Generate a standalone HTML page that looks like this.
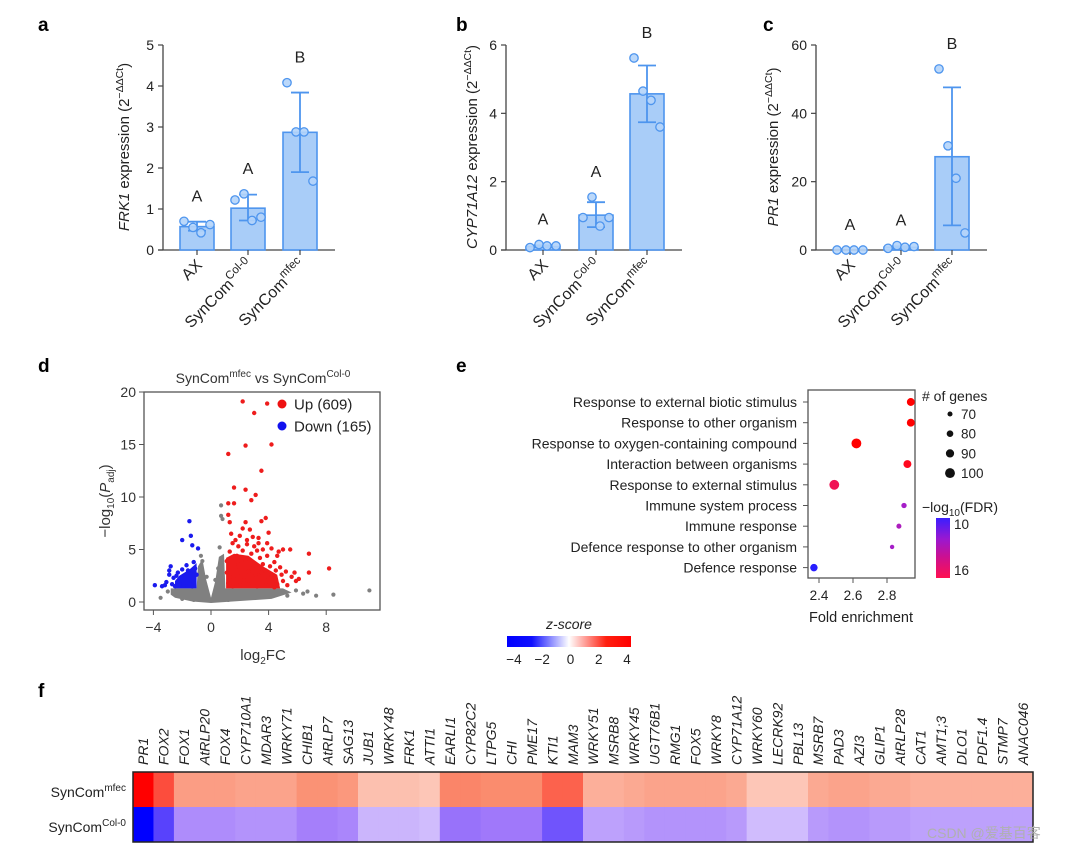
<!DOCTYPE html>
<html><head><meta charset="utf-8">
<style>
html,body{margin:0;padding:0;background:#fff;}
svg{display:block;font-family:"Liberation Sans","Noto Sans CJK SC",sans-serif;}
</style></head>
<body>
<svg id="fig" width="1080" height="852" viewBox="0 0 1080 852" xmlns="http://www.w3.org/2000/svg">
  <rect width="1080" height="852" fill="#fff"/>
  <g id="panelA"></g>
  <g id="panelB"></g>
  <g id="panelC"></g>
  <g id="panelD"></g>
  <g id="panelE"></g>
  <g id="panelF"></g>
  <text x="38" y="31" font-size="19" font-weight="bold">a</text>
  <text x="456" y="31" font-size="19" font-weight="bold">b</text>
  <text x="763" y="31" font-size="19" font-weight="bold">c</text>
  <text x="38" y="372" font-size="19" font-weight="bold">d</text>
  <text x="456" y="372" font-size="19" font-weight="bold">e</text>
  <text x="38" y="697" font-size="19" font-weight="bold">f</text>
  <text x="927" y="838" font-size="14" fill="#b0b0b0">CSDN @爱基百客</text>
</svg>
<script>
// ---------- Bar chart data ----------
const barCategories = ["AX", "Col-0", "mfec"];
const frk1Means = [0.57, 1.02, 2.87];
const frk1ErrLo = [0.47, 0.72, 1.90];
const frk1ErrHi = [0.69, 1.35, 3.84];
const frk1Points = [[0.70, 0.55, 0.42, 0.62], [1.22, 1.37, 0.72, 0.80], [4.08, 2.88, 2.88, 1.68]];
const frk1Letters = ["A", "A", "B"];
const frk1Ticks = [0, 1, 2, 3, 4, 5];

const cypMeans = [0.10, 1.02, 4.57];
const cypErrLo = [0.08, 0.67, 3.74];
const cypErrHi = [0.14, 1.40, 5.40];
const cypPoints = [[0.07, 0.16, 0.12, 0.12], [0.95, 1.55, 0.70, 0.95], [5.62, 4.65, 4.38, 3.60]];
const cypLetters = ["A", "A", "B"];
const cypTicks = [0, 2, 4, 6];

const pr1Means = [0.0, 0.8, 27.3];
const pr1ErrLo = [0.0, 0.5, 7.2];
const pr1ErrHi = [0.0, 1.1, 47.6];
const pr1Points = [[0, 0, 0, 0], [0.5, 1.3, 0.8, 1.0], [53, 30.5, 21, 5]];
const pr1Letters = ["A", "A", "B"];
const pr1Ticks = [0, 20, 40, 60];

// ---------- Volcano data ----------
const volcanoXTicks = [-4, 0, 4, 8];
const volcanoYTicks = [0, 5, 10, 15, 20];
const upPoints = [[2.2,19.1],[3.9,18.9],[3.0,18.0],[1.2,14.1],[2.4,14.9],[4.2,15.0],[3.5,12.5],[1.6,10.9],[2.4,10.7],[3.1,10.2],[2.8,9.7],[1.2,9.4],[1.6,9.4],[1.2,8.3],[3.8,8.0],[3.5,7.7],[1.3,7.6],[2.4,7.6],[4.0,6.6],[2.7,6.9],[6.8,4.6],[8.2,3.2],[6.8,2.8],[5.8,2.8],[5.5,5.0],[5.0,5.0],[4.6,4.4],[4.2,5.1],[3.9,5.6],[3.3,6.1],[2.9,6.2],[2.0,6.3],[1.7,5.9],[1.5,5.6],[2.5,5.5],[3.0,5.3],[3.6,5.0],[4.4,3.8],[4.8,3.3],[5.2,2.9],[5.6,2.4],[6.1,2.2],[5.0,2.0],[4.6,1.7],[4.2,2.6],[3.8,3.0],[3.4,4.2],[2.8,4.6],[2.2,4.9],[1.8,4.4],[1.3,4.8],[1.1,3.9],[1.4,3.3],[1.9,3.6],[2.4,3.9],[3.0,3.7],[3.6,3.6],[4.0,2.2],[3.5,2.0],[3.1,2.6],[2.6,2.9],[2.1,2.5],[1.6,2.2],[1.2,1.8],[1.5,1.5],[2.0,1.6],[2.6,1.7],[3.2,1.5],[3.8,1.6],[4.4,1.4],[5.3,1.6],[4.9,2.6],[4.5,3.0],[3.9,4.4],[3.2,4.9],[2.5,5.9],[1.9,5.3],[1.4,6.5],[2.2,7.0],[3.3,5.6],[4.7,4.8],[5.9,2.0],[1.1,2.8],[1.8,3.0],[2.9,3.2],[3.5,2.8],[4.1,3.4],[1.3,2.4],[2.3,2.1],[2.7,2.4]];
const downPoints = [[-1.5,7.7],[-1.4,6.3],[-2.0,5.9],[-1.3,5.4],[-0.9,5.1],[-2.8,3.4],[-2.9,3.0],[-3.9,1.6],[-3.4,1.5],[-3.1,1.9],[-2.6,2.3],[-2.3,2.8],[-2.0,3.1],[-1.7,3.5],[-1.2,3.8],[-1.1,3.2],[-1.4,2.7],[-1.8,2.4],[-2.2,1.9],[-2.5,1.5],[-1.9,1.6],[-1.5,1.8],[-1.2,2.1],[-1.0,2.6],[-1.6,3.0],[-2.4,2.5],[-2.9,2.6],[-3.2,1.6],[-2.7,1.7],[-1.3,1.5]];
const nsPoints = [[11.0,1.1],[8.5,0.7],[7.3,0.6],[6.7,1.0],[6.4,0.8],[5.9,1.1],[5.3,0.6],[4.8,1.0],[-3.5,0.4],[-3.0,1.0],[0.7,9.2],[0.7,8.2],[0.8,7.9],[0.6,5.2],[-0.7,4.4],[-0.6,3.9],[0.5,3.2],[-0.3,2.4],[0.3,2.1],[2.5,0.4],[3.6,0.5],[-2.0,0.3],[-1.2,0.2],[1.2,0.2]];
const nsCloud = [[-2.8,0.7],[-2.8,1.3],[-1.0,1.3],[-0.9,3.4],[-0.6,4.1],[-0.35,2.2],[0,0.4],[0.3,2.0],[0.55,4.3],[0.9,4.6],[1.0,1.3],[5.0,1.3],[5.6,0.9],[4.2,0.3],[1.5,0.05],[0,-0.1],[-1.3,0.05],[-2.5,0.4]];
const upCloud = [[1.05,1.3],[4.8,1.3],[4.6,2.6],[3.6,3.4],[2.6,4.4],[1.6,4.6],[1.05,4.2]];
const downCloud = [[-2.5,1.3],[-1.0,1.3],[-1.0,3.7],[-1.5,3.1],[-2.2,2.5],[-2.5,2.0]];

// ---------- GO dot plot data ----------
const goTerms = ["Response to external biotic stimulus","Response to other organism","Response to oxygen-containing compound","Interaction between organisms","Response to external stimulus","Immune system process","Immune response","Defence response to other organism","Defence response"];
const goFold = [2.94, 2.94, 2.62, 2.92, 2.49, 2.90, 2.87, 2.83, 2.37];
const goGenes = [88, 88, 100, 88, 100, 72, 70, 66, 85];
const goFdr = [17, 17, 17, 16.5, 15, 11.5, 11.8, 11.5, 9];
const goXTicks = [2.4, 2.6, 2.8];
const sizeLegend = [70, 80, 90, 100];

// ---------- Heatmap data ----------
const heatGenes = ["PR1","FOX2","FOX1","AtRLP20","FOX4","CYP710A1","MDAR3","WRKY71","CHIB1","AtRLP7","SAG13","JUB1","WRKY48","FRK1","ATTI1","EARLI1","CYP82C2","LTPG5","CHI","PME17","KTI1","MAM3","WRKY51","MSRB8","WRKY45","UGT76B1","RMG1","FOX5","WRKY8","CYP71A12","WRKY60","LECRK92","PBL13","MSRB7","PAD3","AZI3","GLIP1","AtRLP28","CAT1","AMT1;3","DLO1","PDF1.4","STMP7","ANAC046"];
const mfecZ = [4.0,2.9,1.7,1.7,1.7,1.6,1.6,1.6,1.9,1.9,1.8,1.1,1.1,1.1,1.0,2.1,2.1,2.0,2.0,2.0,2.6,2.6,1.4,1.4,1.5,1.6,1.6,1.6,1.6,1.5,1.0,1.0,1.0,1.5,1.6,1.6,1.5,1.5,1.4,1.4,1.4,1.4,1.4,1.4];
const colZ = [-4.0,-2.9,-1.7,-1.7,-1.7,-1.6,-1.6,-1.6,-1.9,-1.9,-1.8,-1.1,-1.1,-1.1,-1.0,-2.1,-2.1,-2.0,-2.0,-2.0,-2.6,-2.6,-1.4,-1.4,-1.5,-1.6,-1.6,-1.6,-1.6,-1.5,-1.0,-1.0,-1.0,-1.5,-1.6,-1.6,-1.5,-1.5,-1.4,-1.4,-1.4,-1.4,-1.4,-1.4];
const zTicks = [-4, -2, 0, 2, 4];

const NS = "http://www.w3.org/2000/svg";
function el(tag, attrs, parent) {
  const e = document.createElementNS(NS, tag);
  for (const k in attrs) e.setAttribute(k, attrs[k]);
  if (parent) parent.appendChild(e);
  return e;
}
const BLUE = "#4e95ee", FILL = "#a9cdf8";

function barPanel(g, o) {
  const y = v => 250 - v / o.ymax * 205;
  const xEnd = o.ax + (o.cx[2] - o.ax) + 35;
  const yAxis = el("line", {x1:o.ax, y1:45, x2:o.ax, y2:250, stroke:"#444", "stroke-width":1.3}, g);
  
  
  const xAxis = el("line", {x1:o.ax-5, y1:250, x2:xEnd, y2:250, stroke:"#444", "stroke-width":1.3}, g);
  
  
  o.ticks.forEach(t => {
    el("line", {x1:o.ax-5, y1:y(t), x2:o.ax, y2:y(t), stroke:"#444", "stroke-width":1.2}, g);
    const tl = el("text", {x:o.ax-9, y:y(t)+5, "font-size":14, "text-anchor":"end", fill:"#222"}, g);
    tl.textContent = t;
    
    
  });
  const yl = el("text", {transform:`translate(${o.lx},147) rotate(-90)`, "font-size":15, "text-anchor":"middle", fill:"#222"}, g);
  
  
  const it = el("tspan", {"font-style":"italic"}, yl); it.textContent = o.gene;
  const t2 = el("tspan", {}, yl); t2.textContent = " expression (2";
  const t3 = el("tspan", {"font-size":10.5, dy:-6}, yl); t3.textContent = "−ΔΔCt";
  const t4 = el("tspan", {dy:6}, yl); t4.textContent = ")";
  const offs = [-13, -4, 4, 13];
  barCategories.forEach((c, i) => {
    const cx = o.cx[i];
    const bar = el("rect", {x:cx-17, y:y(o.means[i]), width:34, height:Math.max(0, 250-y(o.means[i])), fill:FILL, stroke:BLUE, "stroke-width":1.6}, g);
    
    
    el("line", {x1:cx, y1:250, x2:cx, y2:255, stroke:"#444", "stroke-width":1.2}, g);
    if (o.errHi[i] > o.errLo[i]) {
      const eb = el("path", {d:`M${cx},${y(o.errLo[i])}V${y(o.errHi[i])}M${cx-9},${y(o.errHi[i])}H${cx+9}M${cx-9},${y(o.errLo[i])}H${cx+9}`, stroke:BLUE, "stroke-width":1.8, fill:"none"}, g);
      
      
    }
    o.pts[i].forEach((p, j) => {
      const d = el("circle", {cx:cx+offs[j], cy:y(p), r:4.2, fill:"#b4d4fa", stroke:BLUE, "stroke-width":1.3, "fill-opacity":0.9}, g);
      
      
    });
    const top = Math.max(o.errHi[i], ...o.pts[i]);
    const lt = el("text", {x:cx, y:y(top)-20, "font-size":16, "text-anchor":"middle", fill:"#222"}, g);
    lt.textContent = o.letters[i];
    
    
    const cl = el("text", {transform:`translate(${cx+6},266) rotate(-45)`, "font-size":16, "text-anchor":"end", fill:"#222"}, g);
    
    
    if (c === "AX") { cl.textContent = "AX"; }
    else {
      const a = el("tspan", {}, cl); a.textContent = "SynCom";
      const b = el("tspan", {"font-size":11.5, dy:-7}, cl); b.textContent = c;
    }
  });
}
barPanel(document.getElementById("panelA"), {ax:163, cx:[197,248,300], ymax:5, ticks:frk1Ticks, means:frk1Means, errLo:frk1ErrLo, errHi:frk1ErrHi, pts:frk1Points, letters:frk1Letters, gene:"FRK1", lx:129});
barPanel(document.getElementById("panelB"), {ax:506, cx:[543,596,647], ymax:6, ticks:cypTicks, means:cypMeans, errLo:cypErrLo, errHi:cypErrHi, pts:cypPoints, letters:cypLetters, gene:"CYP71A12", lx:477});
barPanel(document.getElementById("panelC"), {ax:816, cx:[850,901,952], ymax:60, ticks:pr1Ticks, means:pr1Means, errLo:pr1ErrLo, errHi:pr1ErrHi, pts:pr1Points, letters:pr1Letters, gene:"PR1", lx:778});

// ---------- Volcano ----------
(function(){
  const g = document.getElementById("panelD");
  const X = v => 211 + v * 14.4, Y = v => 602 - v * 10.5;
  const poly = (arr) => arr.map(p => X(p[0]).toFixed(1) + "," + Y(p[1]).toFixed(1)).join(" ");
  const nc = el("polygon", {points:poly(nsCloud), fill:"#808080"}, g);
  
  
  const uc = el("polygon", {points:poly(upCloud), fill:"#ee1c1c"}, g);
  
  
  const dc = el("polygon", {points:poly(downCloud), fill:"#1a1aee"}, g);
  
  
  nsPoints.forEach(p => {
    const c = el("circle", {cx:X(p[0]), cy:Y(p[1]), r:2.1, fill:"#808080"}, g);
    
    
  });
  upPoints.forEach(p => {
    const c = el("circle", {cx:X(p[0]), cy:Y(p[1]), r:2.2, fill:"#ee1c1c"}, g);
    
    
  });
  downPoints.forEach(p => {
    const c = el("circle", {cx:X(p[0]), cy:Y(p[1]), r:2.2, fill:"#1a1aee"}, g);
    
    
  });
  const box = el("rect", {x:144, y:392, width:236, height:218, fill:"none", stroke:"#555", "stroke-width":1.3}, g);
  
  
  volcanoYTicks.forEach(t => {
    el("line", {x1:139, y1:Y(t), x2:144, y2:Y(t), stroke:"#555"}, g);
    const l = el("text", {x:136, y:Y(t)+5, "font-size":14, "text-anchor":"end", fill:"#333"}, g);
    l.textContent = t;
    
    
  });
  volcanoXTicks.forEach(t => {
    el("line", {x1:X(t), y1:610, x2:X(t), y2:615, stroke:"#555"}, g);
    const l = el("text", {x:X(t), y:632, "font-size":14, "text-anchor":"middle", fill:"#333"}, g);
    l.textContent = t < 0 ? "−" + Math.abs(t) : t;
    
    
  });
  const tt = el("text", {x:263, y:383, "font-size":14, "text-anchor":"middle", fill:"#333"}, g);
  
  
  tt.innerHTML = 'SynCom<tspan font-size="10" dy="-6">mfec</tspan><tspan dy="6"> vs SynCom</tspan><tspan font-size="10" dy="-6">Col-0</tspan>';
  const xl = el("text", {x:263, y:660, "font-size":15, "text-anchor":"middle", fill:"#333"}, g);
  
  
  xl.innerHTML = 'log<tspan font-size="10" dy="4">2</tspan><tspan dy="-4">FC</tspan>';
  const yl = el("text", {transform:"translate(110,501) rotate(-90)", "font-size":15, "text-anchor":"middle", fill:"#333"}, g);
  
  
  yl.innerHTML = '−log<tspan font-size="10" dy="4">10</tspan><tspan dy="-4">(</tspan><tspan font-style="italic">P</tspan><tspan font-size="10" dy="4">adj</tspan><tspan dy="-4">)</tspan>';
  [["Up (609)","#ee1111",404],["Down (165)","#1111ee",426]].forEach(L => {
    const c = el("circle", {cx:282, cy:L[2], r:4.5, fill:L[1]}, g);
    
    
    const t = el("text", {x:294, y:L[2]+5.5, "font-size":15, fill:"#222"}, g);
    t.textContent = L[0];
    
    
  });
})();

// ---------- GO dot plot ----------
function fdrColor(v) {
  const stops = [[9,[40,30,255]],[11.5,[165,30,200]],[14,[225,20,110]],[16,[255,15,60]],[17,[255,0,0]]];
  if (v <= stops[0][0]) return `rgb(${stops[0][1]})`;
  for (let i = 1; i < stops.length; i++) {
    if (v <= stops[i][0]) {
      const t = (v - stops[i-1][0]) / (stops[i][0] - stops[i-1][0]);
      const c = stops[i-1][1].map((a, k) => Math.round(a + (stops[i][1][k] - a) * t));
      return `rgb(${c})`;
    }
  }
  return "rgb(255,0,0)";
}
(function(){
  const g = document.getElementById("panelE");
  const X = v => 819 + (v - 2.4) / 0.2 * 34;
  const R = n => 2.2 + (n - 66) * 0.08;
  const rowY = i => 402 + i * 20.7;
  const box = el("rect", {x:808, y:390, width:107, height:188, fill:"none", stroke:"#555", "stroke-width":1.3}, g);
  
  
  goTerms.forEach((t, i) => {
    el("line", {x1:803, y1:rowY(i), x2:808, y2:rowY(i), stroke:"#555"}, g);
    const l = el("text", {x:797, y:rowY(i)+5, "font-size":14, "text-anchor":"end", fill:"#222"}, g);
    l.textContent = t;
    
    
    const d = el("circle", {cx:X(goFold[i]), cy:rowY(i), r:R(goGenes[i]), fill:fdrColor(goFdr[i])}, g);
    
    
  });
  goXTicks.forEach(t => {
    el("line", {x1:X(t), y1:578, x2:X(t), y2:583, stroke:"#555"}, g);
    const l = el("text", {x:X(t), y:600, "font-size":13.5, "text-anchor":"middle", fill:"#222"}, g);
    l.textContent = t.toFixed(1);
    
    
  });
  const xl = el("text", {x:861, y:622, "font-size":14.5, "text-anchor":"middle", fill:"#222"}, g);
  xl.textContent = "Fold enrichment";
  
  
  const sl = el("text", {x:922, y:401, "font-size":14, fill:"#222"}, g);
  sl.textContent = "# of genes";
  
  
  sizeLegend.forEach((n, i) => {
    const yy = 414 + i * 19.7;
    const c = el("circle", {cx:950, cy:yy, r:R(n), fill:"#111"}, g);
    
    
    const t = el("text", {x:961, y:yy+5, "font-size":13.5, fill:"#222"}, g);
    t.textContent = n;
    
    
  });
  const fl = el("text", {x:922, y:512, "font-size":14, fill:"#222"}, g);
  fl.innerHTML = '−log<tspan font-size="10" dy="4">10</tspan><tspan dy="-4">(FDR)</tspan>';
  
  
  const defs = el("defs", {}, g);
  const lg = el("linearGradient", {id:"fdrGrad", x1:0, y1:0, x2:0, y2:1}, defs);
  [[0,"#3a1eff"],[0.35,"#9a18d0"],[0.65,"#cc1090"],[1,"#ff1050"]].forEach(s => el("stop", {offset:s[0], "stop-color":s[1]}, lg));
  const cb = el("rect", {x:936, y:518, width:14, height:60, fill:"url(#fdrGrad)"}, g);
  
  
  [["10",529],["16",575]].forEach(L => {
    const t = el("text", {x:954, y:L[1], "font-size":13.5, fill:"#222"}, g);
    t.textContent = L[0];
    
    
  });
  const zl = el("text", {x:569, y:629, "font-size":14, "font-style":"italic", "text-anchor":"middle", fill:"#222"}, g);
  zl.textContent = "z-score";
  
  
  const zg = el("linearGradient", {id:"zGrad", x1:0, y1:0, x2:1, y2:0}, defs);
  [[0,"#0000ff"],[0.2,"#1010ff"],[0.5,"#ffffff"],[0.8,"#ff2010"],[1,"#ff0000"]].forEach(s => el("stop", {offset:s[0], "stop-color":s[1]}, zg));
  const zb = el("rect", {x:507, y:636, width:124, height:11, fill:"url(#zGrad)"}, g);
  
  
  zTicks.forEach(t => {
    const l = el("text", {x:514 + (t + 4) / 8 * 113, y:664, "font-size":13.5, "text-anchor":"middle", fill:"#222"}, g);
    l.textContent = t < 0 ? "−" + Math.abs(t) : t;
    
    
  });
})();

// ---------- Heatmap ----------
function zColor(v) {
  const t = Math.min(1, Math.abs(v) / 4);
  const mix = (a, b, s) => a.map((x, k) => Math.round(x + (b[k] - x) * s));
  let c;
  if (v >= 0) {
    c = t < 0.5 ? mix([255,255,255],[250,140,110], t/0.5) : mix([250,140,110],[255,0,0],(t-0.5)/0.5);
  } else {
    c = t < 0.5 ? mix([255,255,255],[160,120,250], t/0.5) : mix([160,120,250],[0,0,255],(t-0.5)/0.5);
  }
  return `rgb(${c})`;
}
(function(){
  const g = document.getElementById("panelF");
  const x0 = 133, w = (1033 - 133) / heatGenes.length;
  heatGenes.forEach((gene, i) => {
    const cx = x0 + w * (i + 0.5);
    const l = el("text", {transform:`translate(${cx+5},765) rotate(-90)`, "font-size":14, "font-style":"italic", fill:"#222"}, g);
    l.textContent = gene;
    
    
    const c1 = el("rect", {x:x0 + w*i, y:772, width:w+0.5, height:35, fill:zColor(mfecZ[i])}, g);
    
    
    const c2 = el("rect", {x:x0 + w*i, y:807, width:w+0.5, height:35, fill:zColor(colZ[i])}, g);
    
    
  });
  const fr = el("rect", {x:133, y:772, width:900, height:70, fill:"none", stroke:"#222", "stroke-width":1.5}, g);
  
  
  const r1 = el("text", {x:126, y:797, "font-size":14, "text-anchor":"end", fill:"#222"}, g);
  r1.innerHTML = 'SynCom<tspan font-size="10" dy="-6">mfec</tspan>';
  
  
  const r2 = el("text", {x:126, y:832, "font-size":14, "text-anchor":"end", fill:"#222"}, g);
  r2.innerHTML = 'SynCom<tspan font-size="10" dy="-6">Col-0</tspan>';
  
  
})();
</script>
</body></html>
